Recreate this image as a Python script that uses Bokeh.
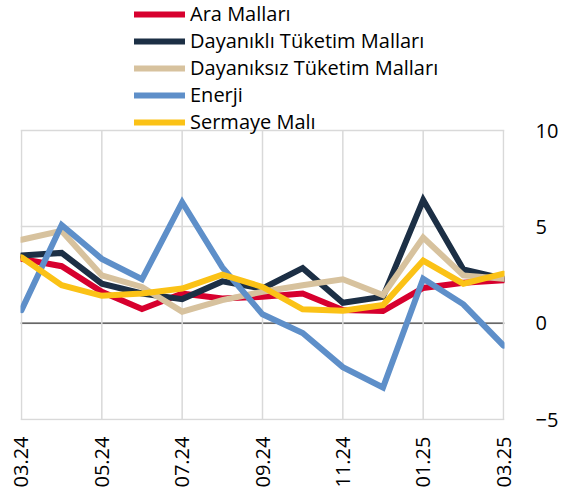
import math
from bokeh.plotting import figure
from bokeh.models import (Range1d, FixedTicker, LinearAxis, Legend, LegendItem, Span)
from bokeh.embed import file_html
from bokeh.resources import INLINE

months = ["03.24", "04.24", "05.24", "06.24", "07.24", "08.24", "09.24",
          "10.24", "11.24", "12.24", "01.25", "02.25", "03.25"]

ara = [3.34, 2.96, 1.63, 0.74, 1.54, 1.28, 1.37, 1.54, 0.68, 0.63, 1.83, 2.10, 2.23]
dayanikli = [3.51, 3.65, 2.05, 1.54, 1.25, 2.17, 1.80, 2.86, 1.06, 1.37, 6.39, 2.79, 2.31]
dayaniksiz = [4.33, 4.79, 2.48, 1.88, 0.60, 1.20, 1.63, 1.97, 2.28, 1.46, 4.45, 2.48, 2.31]
enerji = [0.68, 5.10, 3.34, 2.28, 6.28, 2.90, 0.46, -0.51, -2.28, -3.34, 2.31, 0.98, -1.16]
sermaye = [3.42, 1.97, 1.42, 1.54, 1.80, 2.52, 1.88, 0.72, 0.65, 0.94, 3.25, 2.05, 2.57]

series_names = ["Ara Malları", "Dayanıklı Tüketim Malları", "Dayanıksız Tüketim Malları",
                "Enerji", "Sermaye Malı"]
series_values = [ara, dayanikli, dayaniksiz, enerji, sermaye]
series_colors = ["#D7002E", "#1C2F45", "#D7C29E", "#5E8FC9", "#FBC216"]

y_ticks = [-5, 0, 5, 10]
x_tick_idx = [0, 2, 4, 6, 8, 10, 12]

FONT = "Open Sans"
W, H = 561, 490
GRID = "#d9d9d9"

# layout: plot area (value -5..10) spans 291 px; 131 px above it hold the legend
px_per_unit = 291 / 15.0
y_top = max(y_ticks) + 131 / px_per_unit
y_bot = min(y_ticks) - 1 / px_per_unit
x_pad = 1 / (489 / 12.0)

p = figure(width=W, height=H, output_backend="svg", toolbar_location=None,
           x_range=Range1d(-x_pad, 12 + x_pad), y_range=Range1d(y_bot, y_top),
           x_axis_location=None, y_axis_location=None,
           min_border_left=20, min_border_right=52, min_border_top=0, min_border_bottom=67)
p.outline_line_color = None
p.background_fill_color = "white"
p.border_fill_color = "white"

xs = list(range(len(months)))

xaxis = LinearAxis(ticker=FixedTicker(ticks=x_tick_idx),
                   major_label_overrides={i: months[i] for i in x_tick_idx})
xaxis.major_label_orientation = math.pi / 2
xaxis.axis_line_color = None
xaxis.major_tick_line_color = None
xaxis.minor_tick_line_color = None
xaxis.major_label_standoff = 10
xaxis.major_label_text_font = FONT
xaxis.major_label_text_font_size = "20px"
xaxis.major_label_text_color = "black"
p.add_layout(xaxis, "below")

yaxis = LinearAxis(ticker=FixedTicker(ticks=y_ticks))
yaxis.axis_line_color = None
yaxis.major_tick_line_color = None
yaxis.minor_tick_line_color = None
yaxis.major_label_standoff = 25
yaxis.major_label_text_font = FONT
yaxis.major_label_text_font_size = "20px"
yaxis.major_label_text_color = "black"
p.add_layout(yaxis, "right")

# horizontal grid lines (built-in), vertical ones limited to the -5..10 band
p.xgrid.visible = False
p.ygrid.ticker = FixedTicker(ticks=y_ticks)
p.ygrid.grid_line_color = GRID
p.ygrid.grid_line_width = 1.5
p.segment(x0=x_tick_idx, y0=[min(y_ticks)] * len(x_tick_idx),
          x1=x_tick_idx, y1=[max(y_ticks)] * len(x_tick_idx),
          line_color=GRID, line_width=1.5)

zero = Span(location=0, dimension="width", line_color="#404040", line_width=1.2,
            level="underlay")
p.add_layout(zero)

items = []
for name, vals, col in zip(series_names, series_values, series_colors):
    r = p.line(xs, vals, line_color=col, line_width=6, line_join="miter", line_cap="round")
    items.append(LegendItem(label=name, renderers=[r]))

legend = Legend(items=items, location=(114, 285), orientation="vertical",
                glyph_width=51, glyph_height=26, label_height=26, spacing=-2,
                padding=0, margin=0, label_standoff=5,
                label_text_font=FONT, label_text_font_size="20px",
                label_text_color="black",
                border_line_color=None, background_fill_alpha=0)
p.add_layout(legend, "center")

open("out.html", "w").write(file_html(p, INLINE))
